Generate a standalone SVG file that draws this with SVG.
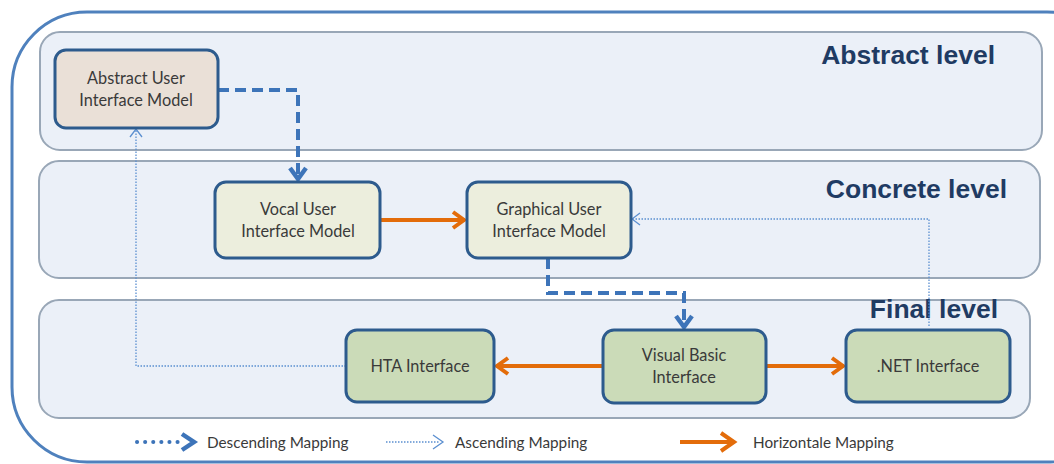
<svg xmlns="http://www.w3.org/2000/svg" width="1054" height="464" viewBox="0 0 1054 464">
<style>
.band{fill:#ebf0f8;stroke:#99a7b7;stroke-width:2}
.lvl{font-family:"Liberation Sans",Arial,sans-serif;font-weight:bold;font-size:26.5px;fill:#1f3b63}
.node rect{stroke:#2d5b8d;stroke-width:3}
.node text,.leg{font-family:Lato,"Liberation Sans",sans-serif;font-size:16.3px;fill:#3a3a3a;text-anchor:middle}
.leg{text-anchor:start;font-size:15.3px}
.desc{fill:none;stroke:#3d74b9;stroke-width:4;stroke-dasharray:11,6}
.asc{fill:none;stroke:#5b8fd0;stroke-width:1.3;stroke-dasharray:1.5,1.5}
.hor{fill:none;stroke:#e36c0a;stroke-width:4}
</style>
<defs>
<marker id="mDesc" viewBox="0 0 16 20" refX="14" refY="10" markerWidth="16" markerHeight="20" markerUnits="userSpaceOnUse" orient="auto">
<path d="M2,2 L13,10 L2,18" fill="none" stroke="#3d74b9" stroke-width="4.5"/>
</marker>
<marker id="mAsc" viewBox="0 0 14 14" refX="13" refY="7" markerWidth="14" markerHeight="14" markerUnits="userSpaceOnUse" orient="auto">
<path d="M5,1 L13,7 L5,13" fill="none" stroke="#5b8fd0" stroke-width="1.3"/>
</marker>
<marker id="mHor" viewBox="0 0 16 20" refX="15" refY="10" markerWidth="16" markerHeight="20" markerUnits="userSpaceOnUse" orient="auto">
<path d="M3,2 L14,10 L3,18" fill="none" stroke="#e36c0a" stroke-width="4"/>
</marker>
</defs>
<rect x="12" y="12" width="1110" height="450" rx="75" fill="#fff" stroke="#4f81bd" stroke-width="3"/>
<g id="bands">
<rect class="band" x="40" y="32" width="1002" height="118" rx="20"/>
<rect class="band" x="39" y="161" width="1001" height="117" rx="20"/>
<rect class="band" x="39" y="300" width="991" height="118" rx="20"/>
<text class="lvl" x="995" y="64" text-anchor="end">Abstract level</text>
<text class="lvl" x="1007" y="198" text-anchor="end">Concrete level</text>
<text class="lvl" x="998" y="318" text-anchor="end">Final level</text>
</g>
<g id="connectors">
<path class="desc" d="M218,90 H298 V180" marker-end="url(#mDesc)"/>
<path class="desc" d="M548,258 V293 H684 V328" marker-end="url(#mDesc)"/>
<path class="hor" d="M380,220 H465" marker-end="url(#mHor)"/>
<path class="hor" d="M603,366 H496" marker-end="url(#mHor)"/>
<path class="hor" d="M766,366 H844" marker-end="url(#mHor)"/>
<path class="asc" d="M346,366 H136 V129" marker-end="url(#mAsc)"/>
<path class="asc" d="M929,326 V219 H632" marker-end="url(#mAsc)"/>
</g>
<g id="n-abstract" class="node">
<rect x="55" y="50" width="163" height="78" rx="11" fill="#eae0d7"/>
<text x="136" y="84">Abstract User</text>
<text x="136" y="106">Interface Model</text>
</g>
<g id="n-vocal" class="node">
<rect x="215" y="182" width="165" height="76" rx="11" fill="#eceedd"/>
<text x="298" y="215">Vocal  User</text>
<text x="298" y="237">Interface Model</text>
</g>
<g id="n-graphical" class="node">
<rect x="467" y="182" width="164" height="76" rx="11" fill="#eceedd"/>
<text x="549" y="215">Graphical User</text>
<text x="549" y="237">Interface Model</text>
</g>
<g id="n-hta" class="node">
<rect x="346" y="330" width="148" height="72" rx="11" fill="#cbdbb8"/>
<text x="420" y="372">HTA Interface</text>
</g>
<g id="n-vb" class="node">
<rect x="603" y="330" width="163" height="73" rx="11" fill="#cbdbb8"/>
<text x="684" y="361">Visual Basic</text>
<text x="684" y="383">Interface</text>
</g>
<g id="n-net" class="node">
<rect x="846" y="330" width="164" height="72" rx="11" fill="#cbdbb8"/>
<text x="928" y="372">.NET Interface</text>
</g>
<g id="legend">
<path d="M137,442 H178" fill="none" stroke="#3d74b9" stroke-width="4" stroke-linecap="round" stroke-dasharray="0.1,8"/>
<path d="M182,434 L194,442 L182,450" fill="none" stroke="#3d74b9" stroke-width="4.5"/>
<text class="leg" x="207" y="448">Descending Mapping</text>
<path d="M386,442 H440" fill="none" stroke="#5b8fd0" stroke-width="1.3" stroke-dasharray="1.5,1.5"/>
<path d="M433,435 L443,442 L433,449" fill="none" stroke="#5b8fd0" stroke-width="1.3"/>
<text class="leg" x="455" y="448">Ascending Mapping</text>
<path d="M680,442 H732" fill="none" stroke="#e36c0a" stroke-width="4"/>
<path d="M721,433 L734,442 L721,451" fill="none" stroke="#e36c0a" stroke-width="4"/>
<text class="leg" x="753" y="448">Horizontale Mapping</text>
</g>
</svg>
